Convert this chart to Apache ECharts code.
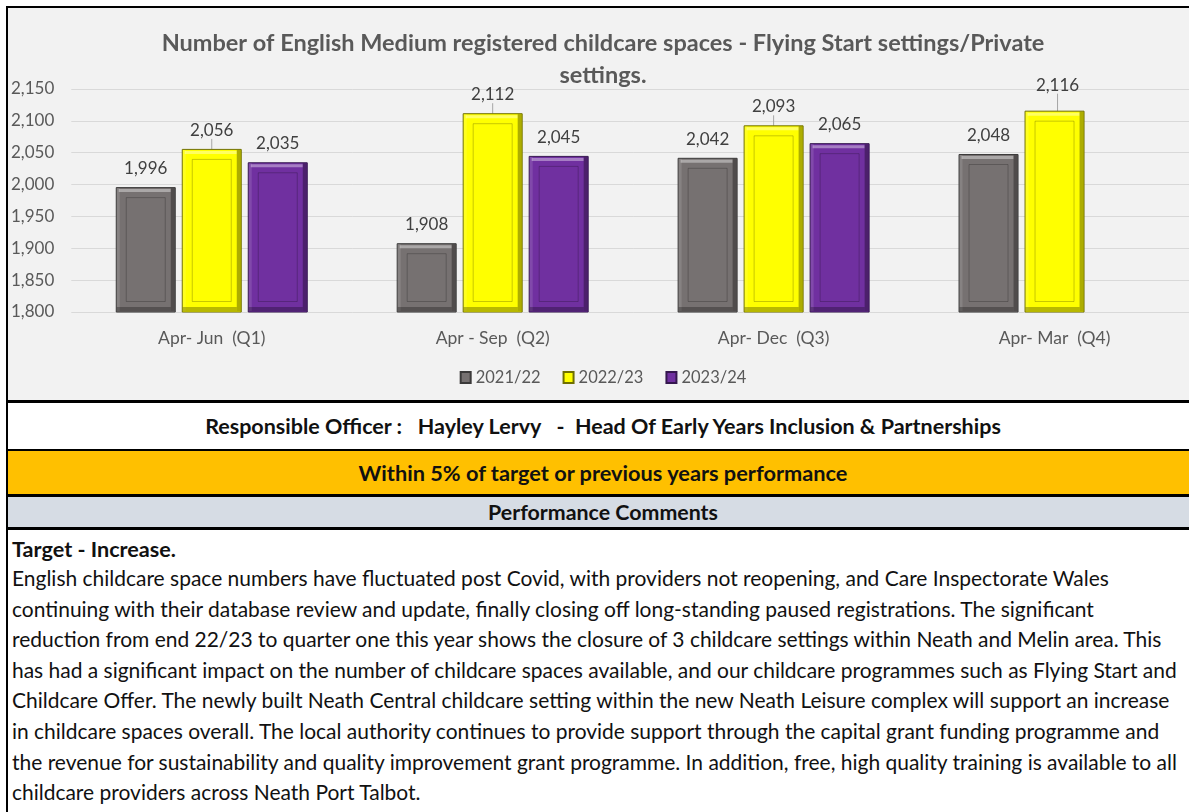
<!DOCTYPE html>
<html>
<head>
<meta charset="utf-8">
<script src="https://cdn.jsdelivr.net/npm/echarts@6/dist/echarts.min.js"></script>
<style>
  body { margin: 0; width: 1189px; height: 812px; overflow: hidden; background: #fff; position: relative; font-family: Lato, "Open Sans", sans-serif; }
  .abs { position: absolute; }
  .line { background: #000; left: 6px; width: 1200px; }
  .band { left: 8px; width: 1190px; display: flex; align-items: center; justify-content: center; font-weight: bold; color: #111; }
  .fit { white-space: pre; display: inline-block; }
  .para { left: 12px; white-space: pre; color: #111; }
</style>
</head>
<body>
<div class="abs line" style="top:6px;height:2px"></div>
<div class="abs" style="left:6px;top:6px;width:2px;height:806px;background:#000"></div>
<div id="chart" class="abs" style="left:8px;top:8px;width:1190px;height:392px;background:#f2f2f2"></div>

<div class="abs line" style="top:400px;height:3px"></div>
<div class="abs band" style="top:403px;height:46px;background:#fff"><span class="fit" data-w="796" style="font-size:18px">Responsible Officer :   Hayley Lervy   -  Head Of Early Years Inclusion &amp; Partnerships</span></div>
<div class="abs line" style="top:449px;height:2px"></div>
<div class="abs band" style="top:451px;height:43px;background:#ffc000"><span class="fit" data-w="489" style="font-size:18px">Within 5% of target or previous years performance</span></div>
<div class="abs line" style="top:494px;height:3px"></div>
<div class="abs band" style="top:497px;height:30px;background:#d6dce4"><span class="fit" data-w="230" style="font-size:18px">Performance Comments</span></div>
<div class="abs line" style="top:527px;height:3px"></div>

<div class="abs para fit" data-w="164" style="top:535px;line-height:28px;font-weight:bold;font-size:18px">Target - Increase.</div>
<div id="comments" class="abs para" style="top:563px;line-height:30.6px;font-size:18px"></div>

<script>
// chart values
const categories = ['Apr- Jun  (Q1)', 'Apr - Sep  (Q2)', 'Apr- Dec  (Q3)', 'Apr- Mar  (Q4)']
const years = ['2021/22', '2022/23', '2023/24']
const spaces2122 = [1996, 1908, 2042, 2048]
const spaces2223 = [2056, 2112, 2093, 2116]
const spaces2324 = [2035, 2045, 2065, null]
const yMin = 1800
const yMax = 2150
const yStep = 50

const colors = ['#767171', '#ffff00', '#7030a0']
const edgeColors = ['#3b3a3a', '#6f6f00', '#35174f']

// comment text, one entry per printed line
const commentLines = [
  'English childcare space numbers have fluctuated post Covid, with providers not reopening, and Care Inspectorate Wales',
  'continuing with their database review and update, finally closing off long-standing paused registrations. The significant',
  'reduction from end 22/23 to quarter one this year shows the closure of 3 childcare settings within Neath and Melin area. This',
  'has had a significant impact on the number of childcare spaces available, and our childcare programmes such as Flying Start and',
  'Childcare Offer. The newly built Neath Central childcare setting within the new Neath Leisure complex will support an increase',
  'in childcare spaces overall. The local authority continues to provide support through the capital grant funding programme and',
  'the revenue for sustainability and quality improvement grant programme. In addition, free, high quality training is available to all',
  'childcare providers across Neath Port Talbot.'
]
const commentWidths = [1068, 1094, 1154, 1169, 1156, 1154, 1172, 408]

const box = document.getElementById('comments')
commentLines.forEach(t => {
  const d = document.createElement('div')
  const s = document.createElement('span')
  s.className = 'cline'
  s.textContent = t
  d.appendChild(s)
  box.appendChild(d)
})

// size html text to the widths seen in the picture
document.querySelectorAll('.fit').forEach(el => {
  const w = el.getBoundingClientRect().width
  el.style.fontSize = (18 * Number(el.dataset.w) / w).toFixed(2) + 'px'
})
let measured = 0
document.querySelectorAll('.cline').forEach(s => { measured += s.getBoundingClientRect().width })
const target = commentWidths.reduce((a, b) => a + b, 0)
box.style.fontSize = (18 * target / measured).toFixed(2) + 'px'

const barW = 60
const gap = 6
const groupW = years.length * barW + (years.length - 1) * gap

const bevel = (idx) => (params, api) => {
  const cat = api.value(0)
  const v = api.value(1)
  const top = api.coord([cat, v])
  const base = api.coord([cat, yMin])
  const x = top[0] - groupW / 2 + idx * (barW + gap)
  const y = top[1]
  const h = base[1] - top[1]
  const w = barW
  return {
    type: 'group',
    silent: true,
    children: [
      { type: 'rect', shape: { x: x + 1, y: y + 1, width: 3, height: h - 2 }, style: { fill: 'rgba(255,255,255,0.12)' } },
      { type: 'rect', shape: { x: x + 3, y: y + 2, width: w - 8, height: 3 }, style: { fill: 'rgba(255,255,255,0.38)' } },
      { type: 'rect', shape: { x: x + w - 5, y: y + 1, width: 4, height: h - 2 }, style: { fill: 'rgba(0,0,0,0.32)' } },
      { type: 'rect', shape: { x: x + 1, y: y + h - 5, width: w - 6, height: 4 }, style: { fill: 'rgba(0,0,0,0.28)' } },
      { type: 'rect', shape: { x: x + 10.5, y: y + 10.5, width: w - 21, height: h - 21 }, style: { fill: 'none', stroke: 'rgba(0,0,0,0.22)', lineWidth: 1 } }
    ]
  }
}

const allValues = [spaces2122, spaces2223, spaces2324]

const barSeries = years.map((name, i) => ({
  name,
  type: 'bar',
  data: allValues[i],
  barWidth: barW,
  barGap: '10%',
  itemStyle: { color: colors[i], borderColor: edgeColors[i], borderWidth: 1 },
  label: {
    show: true,
    position: 'top',
    distance: 10,
    fontFamily: 'Lato',
    fontSize: 17,
    color: '#404040',
    formatter: p => p.value.toLocaleString('en-US')
  },
  labelLayout: i === 1 ? (p => (p.dataIndex === 3 ? { dy: -7, dx: 3 } : {})) : undefined,
  labelLine: i === 1 ? { show: true, lineStyle: { color: '#a6a6a6', width: 1 } } : undefined,
  z: 2
}))

const bevelSeries = years.map((name, i) => ({
  name: name + ' bevel',
  type: 'custom',
  renderItem: bevel(i),
  data: allValues[i].map((v, k) => [k, v]).filter(d => d[1] != null),
  encode: { x: 0, y: 1 },
  silent: true,
  z: 3
}))

const chart = echarts.init(document.getElementById('chart'))
chart.setOption({
  backgroundColor: '#f2f2f2',
  animation: false,
  textStyle: { fontFamily: 'Lato' },
  title: {
    text: 'Number of English Medium registered childcare spaces - Flying Start settings/Private\nsettings.',
    left: 'center',
    top: 14,
    textStyle: { fontFamily: 'Lato', fontSize: 23.5, fontWeight: 'bold', color: '#595959', lineHeight: 32 }
  },
  legend: {
    data: years,
    top: 356,
    left: 'center',
    icon: 'rect',
    itemWidth: 10,
    itemHeight: 11,
    itemGap: 22,
    textStyle: { fontFamily: 'Lato', fontSize: 16.5, color: '#595959' }
  },
  grid: { left: 63, top: 81, width: 1124, height: 223 },
  xAxis: {
    type: 'category',
    data: categories,
    axisLine: { show: false },
    axisTick: { show: false },
    axisLabel: { fontFamily: 'Lato', fontSize: 17.5, color: '#595959', margin: 17 }
  },
  yAxis: {
    type: 'value',
    min: yMin,
    max: yMax,
    interval: yStep,
    axisLine: { show: false },
    axisTick: { show: false },
    splitLine: { lineStyle: { color: '#d9d9d9', width: 1 } },
    axisLabel: {
      fontFamily: 'Lato', fontSize: 17, color: '#595959', margin: 17,
      formatter: v => v.toLocaleString('en-US')
    }
  },
  series: [...barSeries, ...bevelSeries]
})
</script>
</body>
</html>
